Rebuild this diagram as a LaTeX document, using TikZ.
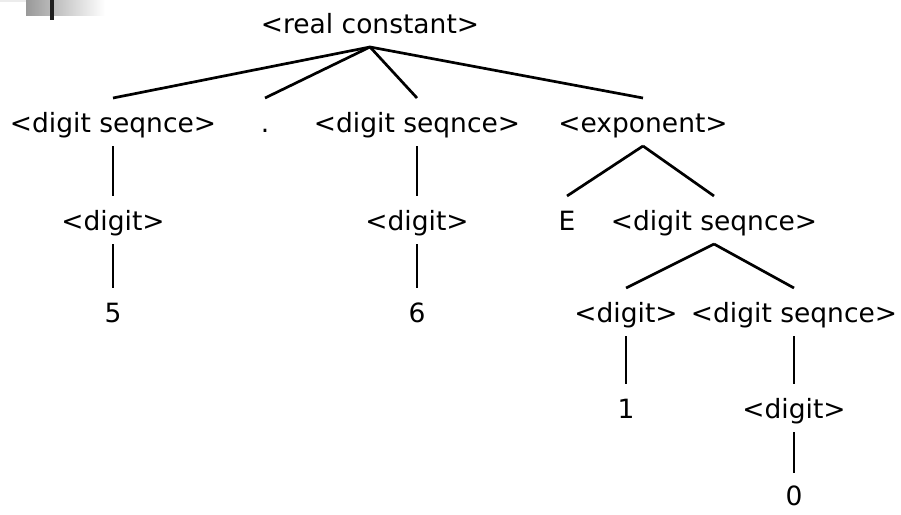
\documentclass[tikz,border=0pt]{standalone}
\usepackage{fontspec}
\setmainfont{DejaVu Sans}
\begin{document}
\begin{tikzpicture}[x=1pt,y=-1pt,
  lbl/.style={anchor=base,inner xsep=0pt,inner ysep=14pt,outer sep=0pt,
    text height=20pt,text depth=0pt,font=\fontsize{26.5}{30}\selectfont},
  leaf/.style={lbl,inner ysep=0pt,text height=32pt},
  edge/.style={line width=2.7pt}]
\useasboundingbox (0,0) rectangle (901,514);
% corner decoration
\fill[gray!15] (0,0) rectangle (43,2);
\shade[left color=gray!80,right color=white] (26,0) rectangle (105,15);
\fill[black!88] (50,0) rectangle (54,20);
% nodes (anchored at baseline)
\node[lbl] (root) at (370,33) {<real constant>};
\node[lbl] (ds1) at (113,132) {<digit seqnce>};
\node[lbl] (dot) at (265,132) {.};
\node[lbl] (ds2) at (417,132) {<digit seqnce>};
\node[lbl] (exp) at (643,132) {<exponent>};
\node[lbl] (d1) at (113,230) {<digit>};
\node[lbl] (d2) at (417,230) {<digit>};
\node[lbl] (E) at (567,230) {E};
\node[lbl] (ds3) at (714,230) {<digit seqnce>};
\node[lbl] (five) at (113,322) {5};
\node[lbl] (six) at (417,322) {6};
\node[lbl] (d3) at (626,322) {<digit>};
\node[lbl] (ds4) at (794,322) {<digit seqnce>};
\node[lbl] (one) at (626,418) {1};
\node[lbl] (d4) at (794,418) {<digit>};
\node[leaf] (zero) at (794,505) {0};
% edges
\draw[edge] (root.south) -- (ds1.north);
\draw[edge] (root.south) -- (dot.north);
\draw[edge] (root.south) -- (ds2.north);
\draw[edge] (root.south) -- (exp.north);
\draw[edge] (ds1.south) -- (d1.north);
\draw[edge] (d1.south) -- (five.north);
\draw[edge] (ds2.south) -- (d2.north);
\draw[edge] (d2.south) -- (six.north);
\draw[edge] (exp.south) -- (E.north);
\draw[edge] (exp.south) -- (ds3.north);
\draw[edge] (ds3.south) -- (d3.north);
\draw[edge] (ds3.south) -- (ds4.north);
\draw[edge] (d3.south) -- (one.north);
\draw[edge] (ds4.south) -- (d4.north);
\draw[edge] (d4.south) -- (zero.north);
\end{tikzpicture}
\end{document}
